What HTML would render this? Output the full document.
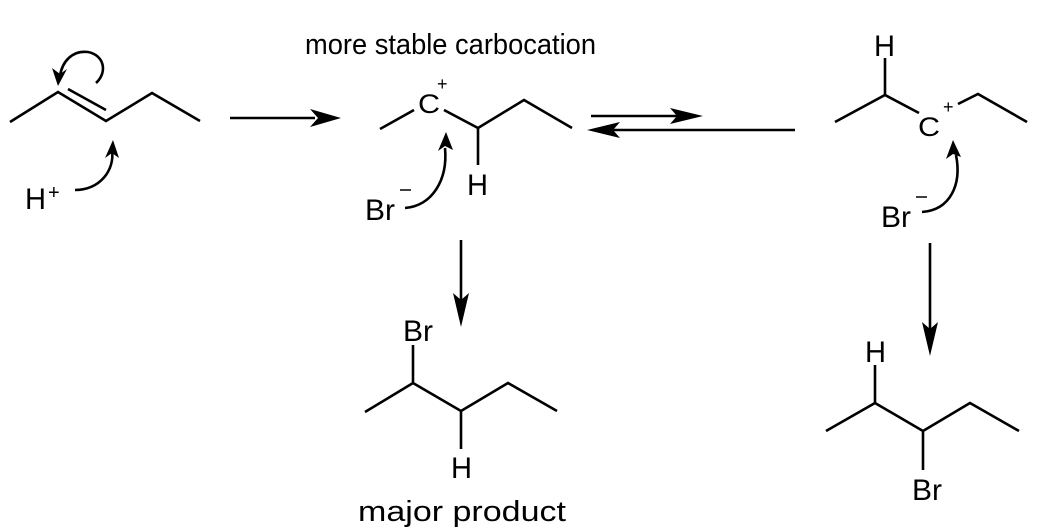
<!DOCTYPE html>
<html><head><meta charset="utf-8"><style>
html,body{margin:0;padding:0;background:#fff;}
svg{display:block;}
text{font-family:"Liberation Sans",Arial,sans-serif;fill:#000;}
</style></head><body>
<svg width="1038" height="531" viewBox="0 0 1038 531" xmlns="http://www.w3.org/2000/svg">
<g stroke="#000" stroke-width="2.6" fill="none" stroke-linecap="butt">
<polyline points="10,122 58,92 106,121 152,93 200,121"/>
<line x1="68" y1="89" x2="106" y2="110"/>
<path d="M96,83 C108,72 104,55 88,52 C72,50 62,62 60,76"/>
<path d="M75,190 C100,190 115,170 112,150"/>
<line x1="230" y1="118" x2="315" y2="118"/>
<line x1="380" y1="129" x2="414" y2="110"/>
<polyline points="444,110 478,128 524,100 572,128"/>
<line x1="478" y1="128" x2="478" y2="165"/>
<path d="M405,208 C432,206 448,180 445,148"/>
<line x1="591" y1="116" x2="680" y2="116"/>
<line x1="610" y1="130" x2="795" y2="130"/>
<line x1="885" y1="58" x2="885" y2="95"/>
<polyline points="835,122 885,95 919,113"/>
<polyline points="958,104 978,94 1027,122"/>
<path d="M922,212 C950,210 962,185 956,155"/>
<line x1="461" y1="240" x2="461" y2="300"/>
<line x1="930" y1="243" x2="930" y2="330"/>
<line x1="413" y1="345" x2="413" y2="383"/>
<polyline points="365,412 413,383 461,411 508,383 557,411"/>
<line x1="461" y1="411" x2="461" y2="449"/>
<line x1="875" y1="365" x2="875" y2="403"/>
<polyline points="826,431 875,403 923,431 970,403 1019,431"/>
<line x1="923" y1="431" x2="923" y2="470"/>
</g>
<g fill="#000" stroke="none">
<polygon points="58,86 52,68 60,74 67,69"/>
<polygon points="113,140 105,158 112,153 119,158"/>
<polygon points="341,118 310,109 318,118 310,127"/>
<polygon points="446,132 438,151 445,146 453,150"/>
<polygon points="703,116 670,108 677,116 670,124"/>
<polygon points="587,130 620,122 613,130 620,138"/>
<polygon points="953,140 946,159 953,154 961,157"/>
<polygon points="461,327 453,293 461,300 469,293"/>
<polygon points="930,356 922,322 930,329 938,322"/>
</g>
<text x="305" y="54" font-size="29" textLength="291" lengthAdjust="spacingAndGlyphs">more stable carbocation</text>
<text x="25" y="209" font-size="30" textLength="21" lengthAdjust="spacingAndGlyphs">H</text>
<text x="48" y="199" font-size="20">+</text>
<text x="418" y="113" font-size="27" textLength="22" lengthAdjust="spacingAndGlyphs">C</text>
<text x="437" y="90" font-size="18">+</text>
<text x="467" y="195" font-size="30" textLength="21" lengthAdjust="spacingAndGlyphs">H</text>
<text x="365" y="220" font-size="30" textLength="30" lengthAdjust="spacingAndGlyphs">Br</text>
<line x1="400" y1="190" x2="411" y2="190" stroke="#000" stroke-width="1.5"/>
<text x="874" y="56" font-size="30" textLength="21" lengthAdjust="spacingAndGlyphs">H</text>
<text x="918" y="136" font-size="27" textLength="22" lengthAdjust="spacingAndGlyphs">C</text>
<text x="943" y="113" font-size="18">+</text>
<text x="881" y="227" font-size="30" textLength="30" lengthAdjust="spacingAndGlyphs">Br</text>
<line x1="916" y1="197" x2="927" y2="197" stroke="#000" stroke-width="1.5"/>
<text x="403" y="341" font-size="30" textLength="30" lengthAdjust="spacingAndGlyphs">Br</text>
<text x="451" y="478" font-size="30" textLength="21" lengthAdjust="spacingAndGlyphs">H</text>
<text x="358" y="521" font-size="29" textLength="208" lengthAdjust="spacingAndGlyphs">major product</text>
<text x="865" y="362" font-size="30" textLength="21" lengthAdjust="spacingAndGlyphs">H</text>
<text x="912" y="500" font-size="30" textLength="30" lengthAdjust="spacingAndGlyphs">Br</text>
</svg>
</body></html>
